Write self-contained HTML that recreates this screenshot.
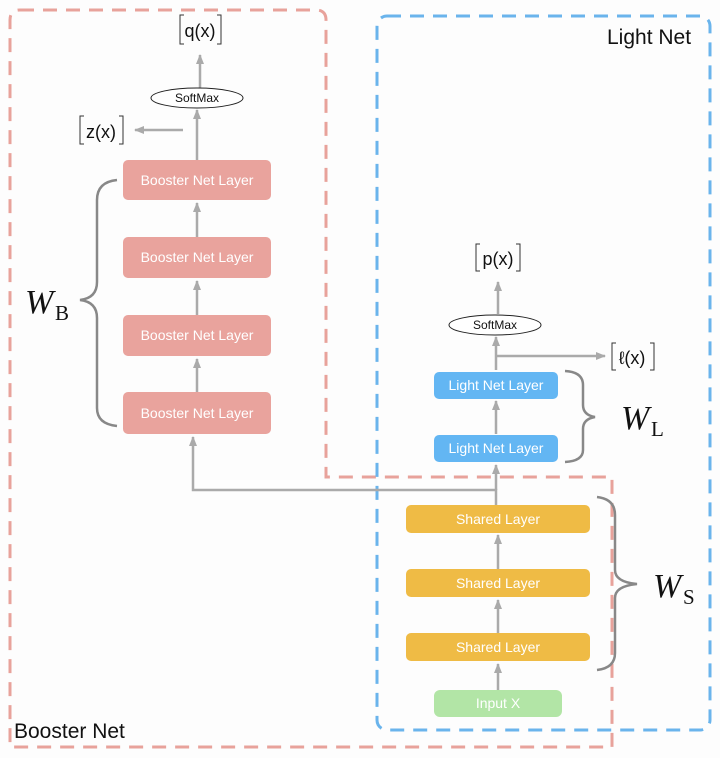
<!DOCTYPE html>
<html><head><meta charset="utf-8"><style>
body{margin:0;background:#fdfdfd;}
svg{display:block;font-family:"Liberation Sans",sans-serif;}
.bt{fill:#fff;font-size:14px;text-anchor:middle;}
.lab{font-size:18px;fill:#111;}
.math{font-family:"Liberation Serif",serif;fill:#111;}
</style></head><body>
<svg width="720" height="758" viewBox="0 0 720 758">
<defs>
<marker id="ah" viewBox="0 0 10 10" markerWidth="10" markerHeight="10" refX="9" refY="5" orient="auto" markerUnits="userSpaceOnUse"><path d="M0,1 L10,5 L0,9 z" fill="#aaa"/></marker></defs>
<path d="M20,10 H316 Q326,10 326,20 V477 H612 V747 H10 V20 Q10,10 20,10 Z" fill="none" stroke="#e8a29b" stroke-width="3" stroke-dasharray="14,9"/>
<rect x="377" y="16" width="333" height="714" rx="10" fill="none" stroke="#6ab4ec" stroke-width="3" stroke-dasharray="14,9"/>
<text x="607" y="44" font-size="21" fill="#111">Light Net</text>
<text x="14" y="738" font-size="21" fill="#111">Booster Net</text>
<g fill="#e9a39d">
<rect x="123" y="160" width="148" height="40" rx="5"/>
<rect x="123" y="237" width="148" height="41" rx="5"/>
<rect x="123" y="315" width="148" height="41" rx="5"/>
<rect x="123" y="392" width="148" height="42" rx="5"/>
</g>
<text class="bt" x="197" y="185">Booster Net Layer</text>
<text class="bt" x="197" y="262">Booster Net Layer</text>
<text class="bt" x="197" y="340">Booster Net Layer</text>
<text class="bt" x="197" y="418">Booster Net Layer</text>
<g stroke="#aaa" stroke-width="2.5" fill="none">
<line x1="197" y1="237" x2="197" y2="203" marker-end="url(#ah)"/>
<line x1="197" y1="315" x2="197" y2="281" marker-end="url(#ah)"/>
<line x1="197" y1="392" x2="197" y2="359" marker-end="url(#ah)"/>
<line x1="197" y1="160" x2="197" y2="110" marker-end="url(#ah)"/>
<line x1="200" y1="88" x2="200" y2="55" marker-end="url(#ah)"/>
<line x1="183" y1="130" x2="135" y2="130" marker-end="url(#ah)"/>
<polyline points="496,505 496,490 193,490 193,437" marker-end="url(#ah)"/>
<line x1="496" y1="490" x2="496" y2="465" marker-end="url(#ah)"/>
<line x1="496" y1="434" x2="496" y2="401" marker-end="url(#ah)"/>
<line x1="496" y1="370" x2="496" y2="337" marker-end="url(#ah)"/>
<line x1="496" y1="356" x2="605" y2="356" marker-end="url(#ah)"/>
<line x1="498" y1="314" x2="498" y2="282" marker-end="url(#ah)"/>
<line x1="498" y1="569" x2="498" y2="535" marker-end="url(#ah)"/>
<line x1="498" y1="633" x2="498" y2="600" marker-end="url(#ah)"/>
<line x1="498" y1="690" x2="498" y2="664" marker-end="url(#ah)"/>
</g>
<ellipse cx="197" cy="98" rx="46" ry="10" fill="#fff" stroke="#222" stroke-width="1"/>
<text x="197" y="102" font-size="12" text-anchor="middle" fill="#111">SoftMax</text>
<ellipse cx="495" cy="325" rx="46" ry="10" fill="#fff" stroke="#222" stroke-width="1"/>
<text x="495" y="329" font-size="12" text-anchor="middle" fill="#111">SoftMax</text>
<g stroke="#333" stroke-width="1" fill="none">
<path d="M184,15 H180 V44 H184"/><path d="M217,15 H221 V44 H217"/>
<path d="M84,116 H80 V144 H84"/><path d="M119,116 H123 V144 H119"/>
<path d="M480,244 H476 V271 H480"/><path d="M516,244 H520 V271 H516"/>
<path d="M616,343 H612 V370 H616"/><path d="M650,343 H654 V370 H650"/>
</g>
<text class="lab" x="200" y="37" text-anchor="middle">q(x)</text>
<text class="lab" x="101" y="138" text-anchor="middle">z(x)</text>
<text class="lab" x="498" y="265" text-anchor="middle">p(x)</text>
<text class="lab" x="632" y="364" text-anchor="middle">ℓ(x)</text>
<g fill="#63b6f3">
<rect x="434" y="372" width="124" height="27" rx="5"/>
<rect x="434" y="435" width="124" height="27" rx="5"/>
</g>
<text class="bt" x="496" y="390">Light Net Layer</text>
<text class="bt" x="496" y="453">Light Net Layer</text>
<g fill="#efbb45">
<rect x="406" y="505" width="184" height="28" rx="5"/>
<rect x="406" y="569" width="184" height="28" rx="5"/>
<rect x="406" y="633" width="184" height="28" rx="5"/>
</g>
<text class="bt" x="498" y="524">Shared Layer</text>
<text class="bt" x="498" y="588">Shared Layer</text>
<text class="bt" x="498" y="652">Shared Layer</text>
<rect x="434" y="690" width="128" height="27" rx="6" fill="#b2e5a6"/>
<text class="bt" x="498" y="708">Input X</text>
<g stroke="#888" stroke-width="2.5" fill="none">
<path d="M117,180 Q97,182 97,200 V282 Q97,298 80,300 Q97,302 97,318 V408 Q97,424 117,426"/>
<path d="M565,371 Q583,372 583,385 V405 Q583,415 595,417 Q583,419 583,429 V450 Q583,461 565,462"/>
<path d="M597,497 Q615,499 615,515 V570 Q615,582 637,584 Q615,586 615,598 V653 Q615,668 597,670"/>
</g>
<text class="math" x="25" y="313" font-size="34" font-style="italic">W</text><text class="math" x="55" y="320" font-size="21">B</text>
<text class="math" x="621" y="429" font-size="34" font-style="italic">W</text><text class="math" x="651" y="436" font-size="21">L</text>
<text class="math" x="653" y="597" font-size="34" font-style="italic">W</text><text class="math" x="683" y="604" font-size="21">S</text>
</svg>
</body></html>
